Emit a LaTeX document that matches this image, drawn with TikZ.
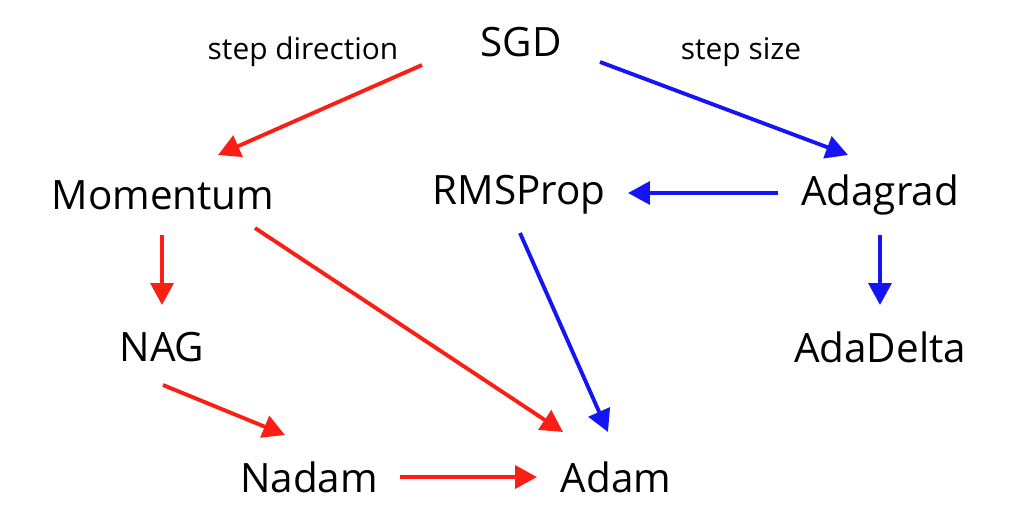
\documentclass[tikz,border=0pt]{standalone}
\usepackage{fontspec}
\setmainfont{Open Sans}
\usetikzlibrary{arrows.meta,calc}
\definecolor{ared}{RGB}{250,30,20}
\definecolor{ablue}{RGB}{20,20,245}
\tikzset{
  big/.style={font=\fontsize{23}{27}\selectfont, inner sep=0pt},
  small/.style={font=\fontsize{17}{20}\selectfont, inner sep=0pt},
  conn/.style={line width=2.2pt, -{Triangle[length=12.5pt,width=13pt]}},
  redc/.style={conn, draw=ared, fill=ared},
  bluec/.style={conn, draw=ablue, fill=ablue},
}
\begin{document}
\begin{tikzpicture}[x=0.02cm,y=-0.02cm]
\useasboundingbox[fill=white] (0,0) rectangle (1034,530);
\node[big] (SGD) at (521,42) {SGD};
\node[small] (dir) at (303,52) {step direction};
\node[small] (size) at (741,52) {step size};
\node[big] (Momentum) at (163,195) {Momentum};
\node[big] (RMSProp) at (519,195) {RMSProp};
\node[big] (Adagrad) at (880,195) {Adagrad};
\node[big] (NAG) at (162,347) {NAG};
\node[big] (AdaDelta) at (880,347) {AdaDelta};
\node[big] (Nadam) at (309,477) {Nadam};
\node[big] (Adam) at (616,477) {Adam};

\draw[redc] ($(SGD)+(-99,23)$) -- ($(Momentum)+(55,-40)$);
\draw[bluec] ($(SGD)+(79,20)$) -- ($(Adagrad)+(-32,-40)$);
\draw[bluec] ($(Adagrad)+(-102,-2)$) -- ($(RMSProp)+(109,-2)$);
\draw[redc] ($(Momentum)+(-1,40)$) -- ($(NAG)+(0,-42)$);
\draw[bluec] ($(Adagrad)+(0,40)$) -- ($(AdaDelta)+(0,-42)$);
\draw[redc] ($(Momentum)+(92,33)$) -- ($(Adam)+(-53,-45)$);
\draw[bluec] ($(RMSProp)+(1,38)$) -- ($(Adam)+(-8,-45)$);
\draw[redc] ($(NAG)+(1,38)$) -- ($(Nadam)+(-24,-42)$);
\draw[redc] ($(Nadam)+(91,0)$) -- ($(Adam)+(-79,0)$);
\end{tikzpicture}
\end{document}
